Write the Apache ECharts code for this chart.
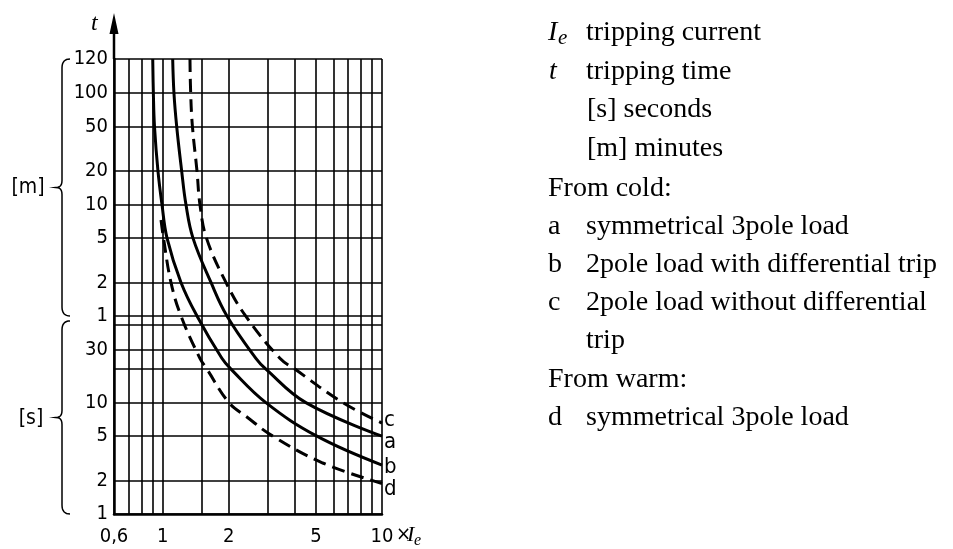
<!DOCTYPE html>
<html><head><meta charset="utf-8">
<script src="https://cdn.jsdelivr.net/npm/echarts@6/dist/echarts.min.js"></script>
<style>html,body{margin:0;padding:0;background:#fff}#c{width:953px;height:549px}</style>
</head><body><div id="c"></div>
<script>
// ---- axis values ----
const xGridValues = [0.6, 0.7, 0.8, 0.9, 1, 1.5, 2, 3, 4, 5, 6, 7, 8, 9, 10];
const xLabelValues = [0.6, 1, 2, 5, 10];
const secGridValues = [1, 2, 5, 10, 20, 30, 50];      // seconds
const secLabelValues = [1, 2, 5, 10, 30];
const minGridValues = [1, 2, 5, 10, 20, 50, 100, 120]; // minutes
const minLabelValues = [1, 2, 5, 10, 20, 50, 100, 120];

// ---- curves: [multiple of Ie, tripping time in seconds] ----
const curveA = [[1.111,7200],[1.126,6000],[1.159,3000],[1.221,1200],[1.277,600],[1.375,300],[1.661,120],[1.964,60],[2.661,25],[2.956,20],[4.496,10],[10,5]];
const curveB = [[0.901,7200],[0.907,6000],[0.918,3000],[0.952,1200],[0.993,600],[1.047,300],[1.212,120],[1.434,60],[1.862,25],[2.048,20],[2.956,10],[5.05,5],[10,2.75]];
const curveC = [[1.332,7200],[1.342,6000],[1.367,3000],[1.434,1200],[1.479,600],[1.584,300],[1.943,120],[2.389,60],[3.423,25],[4.005,20],[6.63,10],[10,6.56]];
const curveD = [[0.983,436],[1.009,300],[1.091,120],[1.212,60],[1.479,25],[1.592,20],[2.005,10],[2.421,7.43],[3.18,5],[5.37,2.87],[10,1.88]];

const L = Math.log10;
const T100 = L(6000), STRETCH = 3.88; // the drawing stretches the 100..120 min band
function tpos(sec) { const l = L(sec); return l <= T100 ? l : T100 + (l - T100) * STRETCH; }
const toXY = arr => arr.map(p => [L(p[0]), tpos(p[1])]);

const yGrid = secGridValues.map(tpos).concat(minGridValues.map(m => tpos(m * 60)));
const yLabelMap = {};
secLabelValues.forEach(s => yLabelMap[tpos(s).toFixed(4)] = String(s));
minLabelValues.forEach(m => yLabelMap[tpos(m * 60).toFixed(4)] = String(m));
const yLabelVals = secLabelValues.map(tpos).concat(minLabelValues.map(m => tpos(m * 60)));
const yMax = tpos(120 * 60);

const SANS = "'DejaVu Sans Condensed','DejaVu Sans',sans-serif";
const SERIF = "'Liberation Serif','Times New Roman',serif";

const chart = echarts.init(document.getElementById('c'));
function lineSeries(name, data, dashed, dy) {
  return {
    name, type: 'line', data: toXY(data), showSymbol: false, symbol: 'none',
    smooth: 0.4, animation: false,
    lineStyle: { color: '#000', width: 3, type: dashed ? [13, 7] : 'solid', cap: 'butt' },
    endLabel: { show: true, formatter: name, distance: 2, offset: [0, dy],
      fontFamily: SANS, fontSize: 22, color: '#000' }
  };
}
chart.setOption({
  animation: false,
  backgroundColor: '#fff',
  grid: { left: 114, right: 571, top: 59, bottom: 35, outerBoundsMode: 'none' },
  xAxis: {
    type: 'value', min: L(0.6), max: 1,
    axisLine: { show: true, onZero: false, lineStyle: { color: '#000', width: 2.5 } },
    axisTick: { show: false, customValues: xGridValues.map(L) },
    splitLine: { show: true, lineStyle: { color: '#000', width: 1.6 } },
    axisLabel: { customValues: xLabelValues.map(L), margin: 13, fontFamily: SANS, fontSize: 20, color: '#000',
      formatter: v => { const n = Math.round(Math.pow(10, v) * 10) / 10; return String(n).replace('.', ','); } }
  },
  yAxis: {
    type: 'value', min: 0, max: yMax,
    axisLine: { show: true, onZero: false, lineStyle: { color: '#000', width: 2.5 } },
    axisTick: { show: false, customValues: yGrid },
    splitLine: { show: true, lineStyle: { color: '#000', width: 1.6 } },
    axisLabel: { customValues: yLabelVals, margin: 6, fontFamily: SANS, fontSize: 20, color: '#000',
      formatter: v => yLabelMap[v.toFixed(4)] || '' }
  },
  series: [
    lineSeries('c', curveC, true, -3),
    lineSeries('a', curveA, false, 6),
    lineSeries('b', curveB, false, 2),
    lineSeries('d', curveD, true, 6)
  ]
});

// ---- decorations placed from axis positions ----
const px = (x, sec) => chart.convertToPixel({ gridIndex: 0 }, [L(x), tpos(sec)]);
const axX = px(0.6, 1)[0];
const yTop = px(0.6, 7200)[1];
const yMin1 = px(0.6, 60)[1];
const yS1 = px(0.6, 1)[1];
const x10 = px(10, 1);
function quad(p0, p1, p2, n) {
  const out = [];
  for (let i = 0; i <= n; i++) {
    const t = i / n, u = 1 - t;
    out.push([u * u * p0[0] + 2 * u * t * p1[0] + t * t * p2[0], u * u * p0[1] + 2 * u * t * p1[1] + t * t * p2[1]]);
  }
  return out;
}
function brace(x, y1, y2) {
  const ym = (y1 + y2) / 2;
  return [].concat(
    quad([x + 8, y1], [x, y1], [x, y1 + 9], 8),
    quad([x, ym - 7], [x, ym], [x - 6, ym], 6),
    quad([x - 6, ym], [x, ym], [x, ym + 7], 6),
    quad([x, y2 - 9], [x, y2], [x + 8, y2], 8)
  );
}
const txt = (x, y, text, font, extra) => ({ type: 'text', x, y,
  style: Object.assign({ text, font, fill: '#000', verticalAlign: 'middle', align: 'left' }, extra || {}) });
const rowsY = [40.7, 80, 118, 157, 197, 235, 273, 311, 349, 388, 426].map(b => b - 8);
const F = `28px ${SERIF}`, FI = `italic 28px ${SERIF}`;
const graphics = [
  { type: 'line', shape: { x1: axX, y1: yTop, x2: axX, y2: 30 }, style: { stroke: '#000', lineWidth: 2.5 } },
  { type: 'polygon', shape: { points: [[axX - 4.5, 34], [axX + 4.5, 34], [axX, 13]] }, style: { fill: '#000' } },
  txt(axX - 23, 24, 't', `italic 24px ${SERIF}`),
  { type: 'polyline', shape: { points: brace(62, yTop, yMin1) }, style: { stroke: '#000', lineWidth: 1.5, fill: null } },
  { type: 'polyline', shape: { points: brace(62, yMin1 + 5, yS1) }, style: { stroke: '#000', lineWidth: 1.5, fill: null } },
  txt(28, (yTop + yMin1) / 2, '[m]', `21px ${SANS}`, { align: 'center' }),
  txt(31, (yMin1 + 5 + yS1) / 2 + 1, '[s]', `21px ${SANS}`, { align: 'center' }),
  txt(x10[0] + 14, x10[1] + 21, '×', `20px ${SANS}`),
  txt(x10[0] + 25, x10[1] + 21, 'I', `italic 22px ${SERIF}`),
  txt(x10[0] + 32, x10[1] + 27, 'e', `italic 16px ${SERIF}`),
  // legend block
  txt(548, rowsY[0], 'I', FI),
  txt(558, rowsY[0] + 6, 'e', `italic 21px ${SERIF}`),
  txt(586, rowsY[0], 'tripping current', F),
  txt(549, rowsY[1], 't', FI),
  txt(586, rowsY[1], 'tripping time', F),
  txt(587, rowsY[2], '[s] seconds', F),
  txt(587, rowsY[3], '[m] minutes', F),
  txt(548, rowsY[4], 'From cold:', F),
  txt(548, rowsY[5], 'a', F), txt(586, rowsY[5], 'symmetrical 3pole load', F),
  txt(548, rowsY[6], 'b', F), txt(586, rowsY[6], '2pole load with differential trip', F),
  txt(548, rowsY[7], 'c', F), txt(586, rowsY[7], '2pole load without differential', F),
  txt(586, rowsY[8], 'trip', F),
  txt(548, rowsY[9], 'From warm:', F),
  txt(548, rowsY[10], 'd', F), txt(586, rowsY[10], 'symmetrical 3pole load', F)
];
chart.setOption({ graphic: graphics });
</script>
</body></html>
